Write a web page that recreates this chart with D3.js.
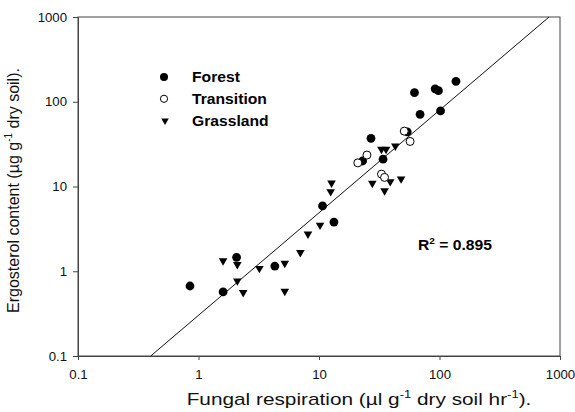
<!DOCTYPE html>
<html>
<head>
<meta charset="utf-8">
<script src="https://cdn.jsdelivr.net/npm/d3@7"></script>
<style>
  body { margin: 0; background: #fff; }
  svg { display: block; }
</style>
</head>
<body>
<div id="chart"></div>
<script>
'use strict';

// ── Data ────────────────────────────────────────────────────────────────────
const forestResp   = [0.85, 1.6, 2.07, 4.3, 10.7, 13.3, 23, 27, 34, 54, 62, 69, 92, 98, 102, 137];
const forestErgo   = [0.67, 0.57, 1.46, 1.15, 5.9, 3.8, 20, 37, 21, 44, 128, 71, 142, 135, 78, 174];

const transResp    = [21, 25, 33, 35, 51, 57];
const transErgo    = [19, 23.5, 14, 12.8, 45, 34];

const grassResp    = [1.6, 2.1, 2.1, 2.35, 3.2, 5.2, 5.2, 7, 8.1, 10.2, 12.5, 12.7, 27.7, 33, 36, 43, 35, 39, 48];
const grassErgo    = [1.33, 1.2, 0.77, 0.56, 1.08, 1.24, 0.58, 1.66, 2.75, 3.5, 8.7, 11, 10.9, 27.5, 27.5, 30, 8.9, 11.4, 12.3];

const axisTicks    = [0.1, 1, 10, 100, 1000];
const legendLabels = ['Forest', 'Transition', 'Grassland'];

// fitted power law: ergosterol = a * respiration^b
const fitA = 0.302;
const fitB = 1.21;
const rSquared = '0.895';

// ── Layout ─────────────────────────────────────────────────────────────────
const fullW = 575, fullH = 412;
const margin = { top: 17, right: 15, bottom: 56, left: 78 };
const W = fullW - margin.left - margin.right;
const H = fullH - margin.top - margin.bottom;
const FONT = 'Liberation Sans, Arial, Helvetica, sans-serif';

const x = d3.scaleLog().domain([0.1, 1000]).range([0, W]);
const y = d3.scaleLog().domain([0.1, 1000]).range([H, 0]);

const svg = d3.select('#chart').append('svg')
  .attr('width', fullW).attr('height', fullH);

const g = svg.append('g').attr('transform', `translate(${margin.left},${margin.top})`);

// Frame
g.append('rect')
  .attr('x', 0).attr('y', 0).attr('width', W).attr('height', H)
  .attr('fill', 'none').attr('stroke', '#444').attr('stroke-width', 1);

// Axes
const xAxis = g.append('g').attr('transform', `translate(0,${H})`)
  .call(d3.axisBottom(x).tickValues(axisTicks).tickSize(4).tickSizeOuter(0)
    .tickFormat(d => String(d)));
const yAxis = g.append('g')
  .call(d3.axisLeft(y).tickValues(axisTicks).tickSize(5).tickSizeOuter(0)
    .tickFormat(d => String(d)));

[xAxis, yAxis].forEach(ax => {
  ax.select('.domain').attr('stroke', '#444');
  ax.selectAll('.tick line').attr('stroke', '#444');
  ax.selectAll('text')
    .attr('font-family', FONT).attr('font-size', '12px').attr('fill', '#111');
});
xAxis.selectAll('text').attr('y', 0).attr('dy', 0)
  .attr('transform', 'translate(0,23) scale(1.1,1)');
yAxis.selectAll('text').attr('x', 0).attr('dy', '0.34em')
  .attr('transform', 'translate(-11,0) scale(1.1,1)');

// Regression line from y = 0.1 up to y = 1000
const xLo = Math.pow(0.1 / fitA, 1 / fitB);
const xHi = Math.pow(1000 / fitA, 1 / fitB);
const line = d3.line().x(d => x(d)).y(d => y(fitA * Math.pow(d, fitB)));
g.append('path')
  .datum([xLo, xHi])
  .attr('fill', 'none').attr('stroke', '#111').attr('stroke-width', 1)
  .attr('d', line);

// Markers
const triPath = (cx, cy, s) =>
  `M${cx - s},${cy - s * 0.58}L${cx + s},${cy - s * 0.58}L${cx},${cy + s * 1.15}Z`;

g.selectAll('.grass')
  .data(grassResp.map((r, i) => [r, grassErgo[i]]))
  .join('path')
  .attr('class', 'grass')
  .attr('d', d => triPath(x(d[0]), y(d[1]), 4.3))
  .attr('fill', '#000');

g.selectAll('.forest')
  .data(forestResp.map((r, i) => [r, forestErgo[i]]))
  .join('circle')
  .attr('class', 'forest')
  .attr('cx', d => x(d[0])).attr('cy', d => y(d[1])).attr('r', 4.4)
  .attr('fill', '#000');

g.selectAll('.trans')
  .data(transResp.map((r, i) => [r, transErgo[i]]))
  .join('circle')
  .attr('class', 'trans')
  .attr('cx', d => x(d[0])).attr('cy', d => y(d[1])).attr('r', 4)
  .attr('fill', '#fff').attr('stroke', '#000').attr('stroke-width', 1);

// ── Legend ─────────────────────────────────────────────────────────────────
const legend = svg.append('g').attr('transform', 'translate(164,77)');
const rowGap = 21.8;
legendLabels.forEach((lab, i) => {
  const row = legend.append('g').attr('transform', `translate(0,${i * rowGap})`);
  if (i === 0) row.append('circle').attr('r', 4).attr('fill', '#000');
  if (i === 1) row.append('circle').attr('r', 3.6).attr('fill', '#fff')
    .attr('stroke', '#000').attr('stroke-width', 1);
  if (i === 2) row.append('path').attr('d', triPath(1, 0, 3.8)).attr('fill', '#000');
  row.append('text')
    .attr('transform', 'translate(28,5) scale(1.12,1)')
    .attr('font-family', FONT).attr('font-size', '14px').attr('font-weight', 'bold')
    .attr('fill', '#000')
    .text(lab);
});

// R² annotation
const r2 = svg.append('text')
  .attr('transform', 'translate(418,250) scale(1.12,1)')
  .attr('font-family', FONT).attr('font-size', '14px').attr('font-weight', 'bold')
  .attr('fill', '#000');
r2.append('tspan').text('R');
r2.append('tspan').attr('font-size', '9px').attr('dy', '-6').text('2');
r2.append('tspan').attr('dy', '6').text(' = ' + rSquared);

// ── Axis titles ────────────────────────────────────────────────────────────
const xTitle = svg.append('text')
  .attr('transform', 'translate(359,405) scale(1.3,1)')
  .attr('text-anchor', 'middle')
  .attr('font-family', FONT).attr('font-size', '16px').attr('fill', '#111');
xTitle.append('tspan').text('Fungal respiration (µl g');
xTitle.append('tspan').attr('font-size', '10px').attr('dy', '-7').text('-1');
xTitle.append('tspan').attr('dy', '7').text(' dry soil hr');
xTitle.append('tspan').attr('font-size', '10px').attr('dy', '-7').text('-1');
xTitle.append('tspan').attr('dy', '7').text(').');

const yTitle = svg.append('text')
  .attr('transform', `translate(19,${margin.top + H / 2 + 4}) rotate(-90)`)
  .attr('text-anchor', 'middle')
  .attr('font-family', FONT).attr('font-size', '16px').attr('fill', '#111');
yTitle.append('tspan').text('Ergosterol content (µg g');
yTitle.append('tspan').attr('font-size', '10px').attr('dy', '-7').text('-1');
yTitle.append('tspan').attr('dy', '7').text(' dry soil).');
</script>
</body>
</html>
